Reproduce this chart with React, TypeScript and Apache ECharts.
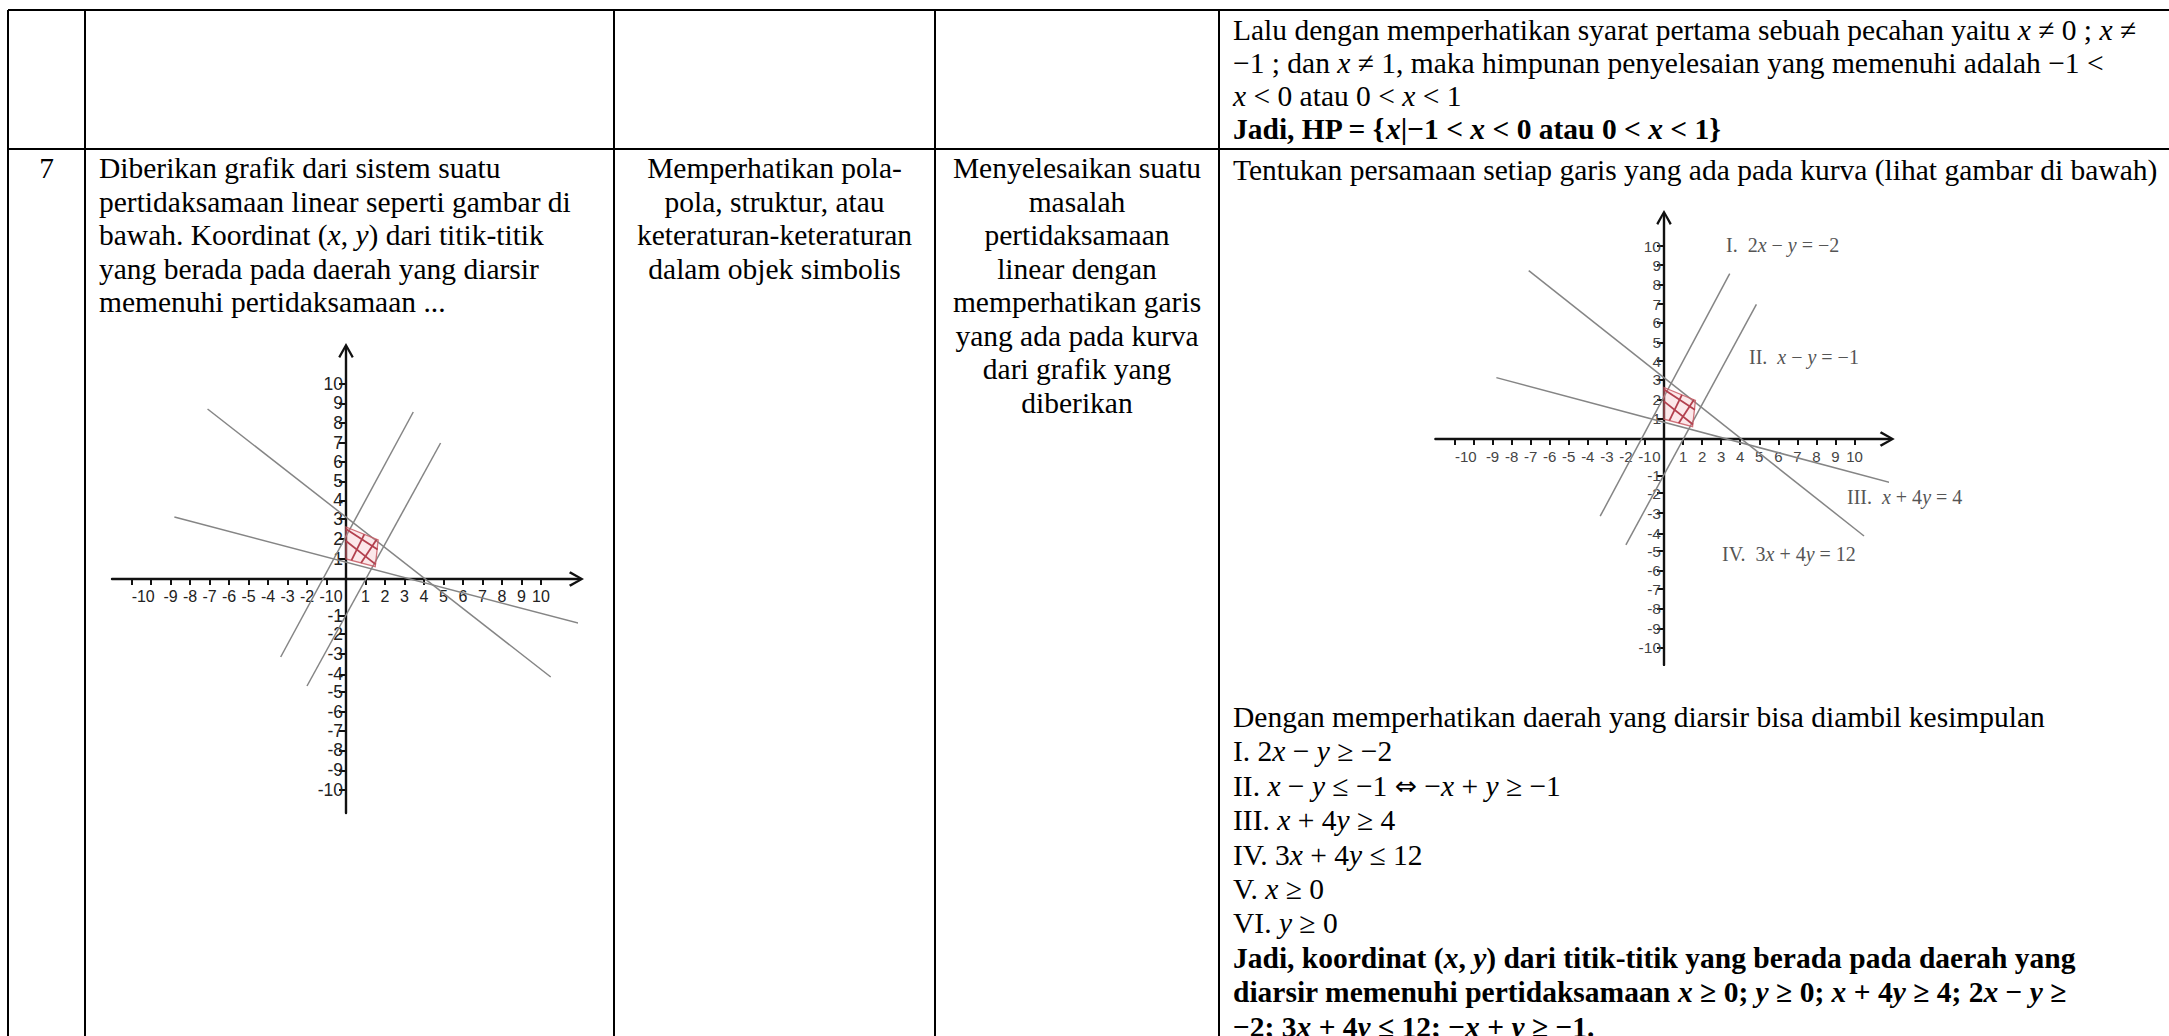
import React, { useEffect, useRef } from 'react';
import * as echarts from 'echarts';

// ---------- data ----------
// x-axis tick marks (hand-drawn axis: 11 ticks on the left, 10 on the right)
const xTickValues = [-11, -10, -9, -8, -7, -6, -5, -4, -3, -2, -1, 1, 2, 3, 4, 5, 6, 7, 8, 9, 10];
// where the x labels sit on the drawing, and their texts
const xLabelPositions = [-10.4, -9, -8, -7, -6, -5, -4, -3, -2, -1, -0.4, 1, 2, 3, 4, 5, 6, 7, 8, 9, 10];
const xLabelTexts = ['-10', '-9', '-8', '-7', '-6', '-5', '-4', '-3', '-2', '-1', '0', '1', '2', '3', '4', '5', '6', '7', '8', '9', '10'];
// where the y ticks sit on the drawing (the hand-drawn negative ticks are lower), and their texts
const yTickPositions = [-10.55, -9.57, -8.57, -7.58, -6.64, -5.66, -4.77, -3.74, -2.73, -1.84, 1.02, 1.99, 2.99, 3.93, 4.88, 5.86, 6.81, 7.79, 8.78, 9.74];
const yLabelTexts = ['-10', '-9', '-8', '-7', '-6', '-5', '-4', '-3', '-2', '-1', '1', '2', '3', '4', '5', '6', '7', '8', '9', '10'];

// end points of the drawn lines (x, y)
const lineI = [[-3.35, -3.9], [3.45, 8.35]]; // 2x − y = −2
const lineII = [[-2.0, -5.35], [4.85, 6.8]]; // x − y = −1
const lineIII = [[-8.8, 3.1], [13.45, -2.6]]; // x + 4y = 4
const lineIV = [[-7.1, 8.5], [10.5, -4.9]]; // 3x + 4y = 12

// shaded (hatched) region
const shadedRegion = [[0, 2.6], [1.65, 1.95], [1.5, 0.62], [0, 1.0]];
const hatchLines = [
  [[0, 2.5], [1.62, 1.48]],
  [[0, 1.9], [1.52, 0.73]],
  [[0.28, 0.93], [0.94, 2.23]],
  [[0.77, 0.8], [1.57, 1.98]],
];

// ---------- texts ----------
const row1Col4 = [
  'Lalu dengan memperhatikan syarat pertama sebuah pecahan yaitu {i|x} ≠ 0 ; {i|x} ≠',
  '−1 ; dan {i|x} ≠ 1, maka himpunan penyelesaian yang memenuhi adalah −1 <',
  '{i|x} < 0 atau 0 < {i|x} < 1',
];
const row1Col4Bold = 'Jadi, HP = {{bi|x}|−1 < {bi|x} < 0 atau 0 < {bi|x} < 1}';

const row2Number = '7';
const row2Col1 = [
  'Diberikan grafik dari sistem suatu',
  'pertidaksamaan linear seperti gambar di',
  'bawah. Koordinat ({i|x}, {i|y}) dari titik-titik',
  'yang berada pada daerah yang diarsir',
  'memenuhi pertidaksamaan ...',
];
const row2Col2 = ['Memperhatikan pola-', 'pola, struktur, atau', 'keteraturan-keteraturan', 'dalam objek simbolis'];
const row2Col3 = [
  'Menyelesaikan suatu',
  'masalah',
  'pertidaksamaan',
  'linear dengan',
  'memperhatikan garis',
  'yang ada pada kurva',
  'dari grafik yang',
  'diberikan',
];
const row2Col4Head = 'Tentukan persamaan setiap garis yang ada pada kurva (lihat gambar di bawah)';
const row2Col4Body = [
  'Dengan memperhatikan daerah yang diarsir bisa diambil kesimpulan',
  'I. 2{i|x} − {i|y} ≥ −2',
  'II. {i|x} − {i|y} ≤ −1 {ar|⇔} −{i|x} + {i|y} ≥ −1',
  'III. {i|x} + 4{i|y} ≥ 4',
  'IV. 3{i|x} + 4{i|y} ≤ 12',
  'V. {i|x} ≥ 0',
  'VI. {i|y} ≥ 0',
];
const row2Col4Bold = [
  'Jadi, koordinat ({bi|x}, {bi|y}) dari titik-titik yang berada pada daerah yang',
  'diarsir memenuhi pertidaksamaan {bi|x} ≥ 0; {bi|y} ≥ 0; {bi|x} + 4{bi|y} ≥ 4; 2{bi|x} − {bi|y} ≥',
  '−2; 3{bi|x} + 4{bi|y} ≤ 12; −{bi|x} + {bi|y} ≥ −1.',
];
const equationLabels = [
  'I.  2{i|x} − {i|y} = −2',
  'II.  {i|x} − {i|y} = −1',
  'III.  {i|x} + 4{i|y} = 4',
  'IV.  3{i|x} + 4{i|y} = 12',
];

// ---------- layout ----------
const W = 2169;
const H = 1036;
const SERIF = 'Liberation Serif';
const FS = 29.5;
const ARROW = 'path://M0,14 L8,0 L16,14 L14,15.5 L8,4.5 L2,15.5 Z M7,2 L9,2 L9,15.5 L7,15.5 Z';

const charts = [
  { ox: 346, oy: 579, ux: 19.5, uy: 20, xmin: -12, xmax: 11.82, ymin: -11.7, ymax: 11.42, xLabelSize: 16, yLabelSize: 17.5, labelColor: '#222', xMargin: 9, yMargin: 3 },
  { ox: 1664, oy: 439, ux: 19.05, uy: 19.8, xmin: -12, xmax: 11.72, ymin: -11.41, ymax: 11.19, xLabelSize: 15, yLabelSize: 15.5, labelColor: '#444', xMargin: 10, yMargin: 3 },
];

const colX = [8, 85, 614, 935, 1219];
const topY = 10;
const sepY = 149;

function lookup(positions: number[], texts: string[], v: number) {
  let best = -1;
  let bestD = Infinity;
  positions.forEach((p, i) => {
    const d = Math.abs(p - v);
    if (d < bestD) {
      bestD = d;
      best = i;
    }
  });
  return best >= 0 && bestD < 0.05 ? texts[best] : '';
}

function richFor(size: number, color: string) {
  return {
    i: { fontFamily: SERIF, fontSize: size, fontStyle: 'italic', fill: color },
    bi: { fontFamily: SERIF, fontSize: size, fontStyle: 'italic', fontWeight: 'bold', fill: color },
    ar: { fontFamily: 'DejaVu Sans', fontSize: size * 0.9, fill: color },
  };
}

function textEl(x: number, y: number, text: string, opts: any = {}) {
  const size = opts.size || FS;
  const color = opts.color || '#000';
  return {
    type: 'text',
    x,
    y,
    silent: true,
    style: {
      text,
      fill: color,
      fontFamily: SERIF,
      fontSize: size,
      fontWeight: opts.bold ? 'bold' : 'normal',
      align: opts.align || 'left',
      verticalAlign: 'middle',
      rich: richFor(size, color),
    },
  };
}

function lineEl(x1: number, y1: number, x2: number, y2: number, w = 2) {
  return { type: 'line', silent: true, shape: { x1, y1, x2, y2 }, style: { stroke: '#000', lineWidth: w } };
}

function buildOption() {
  const grid: any[] = [];
  const xAxis: any[] = [];
  const yAxis: any[] = [];
  const series: any[] = [];

  charts.forEach((c, k) => {
    grid.push({
      left: c.ox + c.xmin * c.ux,
      top: c.oy - c.ymax * c.uy,
      width: (c.xmax - c.xmin) * c.ux,
      height: (c.ymax - c.ymin) * c.uy,
      containLabel: false,
      outerBoundsMode: 'none',
    });
    const xLabelStyle = { fontFamily: 'Liberation Sans', fontSize: c.xLabelSize, color: c.labelColor };
    const yLabelStyle = { fontFamily: 'Liberation Sans', fontSize: c.yLabelSize, color: c.labelColor };
    const axisLine = {
      show: true,
      onZero: false,
      symbol: ['none', ARROW],
      symbolSize: [18, 15],
      lineStyle: { color: '#111', width: 2.4 },
    };
    xAxis.push({
      type: 'value',
      gridIndex: k,
      position: 'bottom',
      offset: c.ymin * c.uy,
      min: c.xmin,
      max: c.xmax,
      axisLine,
      axisTick: { show: true, customValues: xTickValues, length: 6, lineStyle: { color: '#111', width: 2 } },
      axisLabel: {
        show: true,
        customValues: xLabelPositions,
        hideOverlap: false,
        showMinLabel: true,
        showMaxLabel: true,
        margin: c.xMargin,
        ...xLabelStyle,
        formatter: (v: number) => lookup(xLabelPositions, xLabelTexts, v),
      },
      splitLine: { show: false },
    });
    yAxis.push({
      type: 'value',
      gridIndex: k,
      position: 'left',
      offset: c.xmin * c.ux,
      min: c.ymin,
      max: c.ymax,
      axisLine,
      axisTick: { show: true, customValues: yTickPositions, length: 7, lineStyle: { color: '#111', width: 2 } },
      axisLabel: {
        show: true,
        customValues: yTickPositions,
        hideOverlap: false,
        showMinLabel: true,
        showMaxLabel: true,
        margin: c.yMargin,
        ...yLabelStyle,
        formatter: (v: number) => lookup(yTickPositions, yLabelTexts, v),
      },
      splitLine: { show: false },
    });

    [lineI, lineII, lineIII, lineIV].forEach((d) => {
      series.push({
        type: 'line',
        xAxisIndex: k,
        yAxisIndex: k,
        data: d,
        symbol: 'none',
        clip: false,
        silent: true,
        z: 3,
        lineStyle: { color: '#858585', width: 1.5 },
      });
    });

    series.push({
      type: 'custom',
      xAxisIndex: k,
      yAxisIndex: k,
      clip: false,
      silent: true,
      z: 4,
      data: shadedRegion,
      encode: { x: 0, y: 1 },
      renderItem: (params: any, api: any) => {
        if (params.dataIndex !== 0) return null;
        const pts = shadedRegion.map((p) => api.coord(p));
        const children: any[] = [
          {
            type: 'polygon',
            shape: { points: pts },
            style: { fill: 'rgba(240,150,160,0.22)', stroke: 'rgba(200,90,100,0.85)', lineWidth: 1.3 },
          },
        ];
        hatchLines.forEach((l) => {
          const a = api.coord(l[0]);
          const b = api.coord(l[1]);
          children.push({
            type: 'line',
            shape: { x1: a[0], y1: a[1], x2: b[0], y2: b[1] },
            style: { stroke: '#b3404e', lineWidth: 1.8 },
          });
        });
        return { type: 'group', children };
      },
    });
  });

  const elements: any[] = [];
  // table borders
  elements.push(lineEl(colX[0], topY, W, topY, 2.2));
  elements.push(lineEl(colX[0], sepY, W, sepY, 2.2));
  colX.forEach((x) => elements.push(lineEl(x, topY, x, H, 2)));

  const tx = colX[4] + 14;
  // row 1
  row1Col4.forEach((t, i) => elements.push(textEl(tx, 30 + 33 * i, t)));
  elements.push(textEl(tx, 30 + 33 * 3, row1Col4Bold, { bold: true }));

  // row 2
  const r2 = 168;
  const ls = 33.5;
  elements.push(textEl((colX[0] + colX[1]) / 2, r2, row2Number, { align: 'center' }));
  row2Col1.forEach((t, i) => elements.push(textEl(colX[1] + 14, r2 + ls * i, t)));
  row2Col2.forEach((t, i) => elements.push(textEl((colX[2] + colX[3]) / 2, r2 + ls * i, t, { align: 'center' })));
  row2Col3.forEach((t, i) => elements.push(textEl((colX[3] + colX[4]) / 2, r2 + ls * i, t, { align: 'center' })));
  elements.push(textEl(tx, r2 + 2, row2Col4Head));

  const by = 717;
  const bls = 34.4;
  row2Col4Body.forEach((t, i) => elements.push(textEl(tx, by + bls * i, t)));
  row2Col4Bold.forEach((t, i) =>
    elements.push(textEl(tx, by + bls * (row2Col4Body.length + i), t, { bold: true })),
  );

  // equation labels in the second figure
  const eqPos = [
    [1726, 245],
    [1749, 357],
    [1847, 497],
    [1722, 554],
  ];
  equationLabels.forEach((t, i) =>
    elements.push(textEl(eqPos[i][0], eqPos[i][1], t, { size: 20, color: '#555' })),
  );

  return {
    animation: false,
    backgroundColor: '#fff',
    grid,
    xAxis,
    yAxis,
    series,
    graphic: { elements },
  };
}

export default function App() {
  const ref = useRef<HTMLDivElement>(null);
  useEffect(() => {
    const chart = echarts.init(ref.current as HTMLDivElement, null, { renderer: 'svg' });
    chart.setOption(buildOption() as any);
    return () => chart.dispose();
  }, []);
  return (
    <div
      ref={ref}
      style={{ position: 'absolute', left: 0, top: 0, width: W, height: H, background: '#fff' }}
    />
  );
}
